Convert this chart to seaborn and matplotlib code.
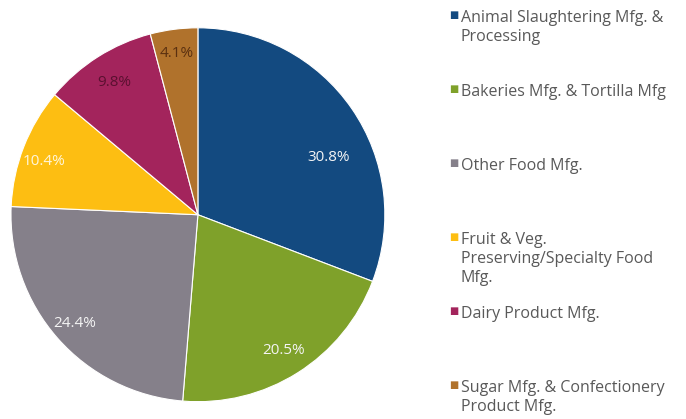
import matplotlib
matplotlib.use("Agg")
import numpy as np
import matplotlib.pyplot as plt
import seaborn as sns

sns.set_theme(style="white")
plt.rcParams['font.family'] = ['Open Sans', 'DejaVu Sans']

categories = [
    "Animal Slaughtering Mfg. &\nProcessing",
    "Bakeries Mfg. & Tortilla Mfg",
    "Other Food Mfg.",
    "Fruit & Veg.\nPreserving/Specialty Food\nMfg.",
    "Dairy Product Mfg.",
    "Sugar Mfg. & Confectionery\nProduct Mfg.",
]
values = [30.8, 20.5, 24.4, 10.4, 9.8, 4.1]
colors = ["#134A80", "#7FA12A", "#85808A", "#FDBE12", "#A3245C", "#B0722C"]
label_colors = ["#f4f4f4", "#f4f4f4", "#f4f4f4", "#fff6dc", "#5a1030", "#5a3010"]

# label placement (layout only): radial distance and angular shift (degrees)
label_r = [0.76, 0.86, 0.88, 0.87, 0.84, 0.87]
label_shift = [-11, 0, 0, 2, 0, 0]

fig = plt.figure(figsize=(6.86, 4.19), dpi=100)
ax = fig.add_axes([0.016, 0.041, 0.545, 0.893])
wedges, texts, autotexts = ax.pie(
    values, colors=colors, startangle=90, counterclock=False,
    autopct="%1.1f%%", pctdistance=0.83,
    wedgeprops=dict(edgecolor="white", linewidth=0.8),
    textprops=dict(fontsize=11),
)
for w, t, c, r, s in zip(wedges, autotexts, label_colors, label_r, label_shift):
    t.set_color(c)
    ang = np.deg2rad((w.theta1 + w.theta2) / 2 + s)
    t.set_position((r * np.cos(ang), r * np.sin(ang)))
ax.set_xlim(-1, 1)
ax.set_ylim(-1, 1)
ax.set_aspect("equal")

# legend entries, evenly spaced, top-aligned
y_top = 1 - 15 / 419
step = 74 / 419
for i, (lab, c) in enumerate(zip(categories, colors)):
    y = y_top - i * step
    fig.text(0.6545, y, "\u25A0", color=c, fontsize=7, va="center", ha="left",
             family=['DejaVu Sans'])
    fig.text(0.672, y + 0.012, lab, color="#595959", fontsize=11.5, va="top",
             ha="left", linespacing=1.25)

fig.savefig("out.png", dpi=100)
